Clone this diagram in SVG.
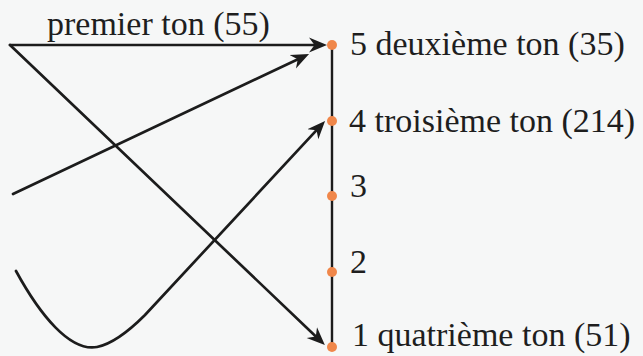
<svg xmlns="http://www.w3.org/2000/svg" width="643" height="356" viewBox="0 0 643 356">
<style>
.bg{fill:#f6f7f7}
.ln{fill:none;stroke:#1c1c1c;stroke-width:2.7;stroke-linecap:round}
.ax{fill:none;stroke:#1c1c1c;stroke-width:2.4}
.dot{fill:#f0874a}
.lbl{font-family:'Liberation Serif',serif;font-size:34px;fill:#1e1e1e}
</style>
<defs>
<marker id="ah" markerUnits="userSpaceOnUse" viewBox="-18 -8 19 16" markerWidth="19" markerHeight="16" refX="-7" refY="0" orient="auto">
<path d="M-18,-7.5 L0,0 L-18,7.5 L-12.5,0 Z" fill="#1c1c1c"/>
</marker>
</defs>
<rect class="bg" x="0" y="0" width="643" height="356"/>
<g id="axis">
<line class="ax" x1="332" y1="45" x2="332" y2="347"/>
</g>
<g id="connectors">
<line class="ln" x1="10" y1="45" x2="320" y2="45" marker-end="url(#ah)"/>
<line class="ln" x1="10" y1="45" x2="319.8" y2="340.2" marker-end="url(#ah)"/>
<line class="ln" x1="13" y1="194" x2="302.7" y2="57" marker-end="url(#ah)"/>
<path class="ln" d="M16,271 C40,315 70,352 97,347 C112,344 127,333 145,315 L320.3,126.2" marker-end="url(#ah)"/>
</g>
<g id="n5">
<circle class="dot" cx="332" cy="45" r="5"/>
<text class="lbl" x="350" y="55">5 deuxième ton (35)</text>
</g>
<g id="n4">
<circle class="dot" cx="332" cy="121" r="5"/>
<text class="lbl" x="349" y="132">4 troisième ton (214)</text>
</g>
<g id="n3">
<circle class="dot" cx="332" cy="196" r="5"/>
<text class="lbl" x="350" y="197">3</text>
</g>
<g id="n2">
<circle class="dot" cx="332" cy="272" r="5"/>
<text class="lbl" x="350" y="273">2</text>
</g>
<g id="n1">
<circle class="dot" cx="332" cy="347" r="5"/>
<text class="lbl" x="352" y="346">1 quatrième ton (51)</text>
</g>
<g id="label-premier">
<text class="lbl" x="47" y="35">premier ton (55)</text>
</g>
</svg>
